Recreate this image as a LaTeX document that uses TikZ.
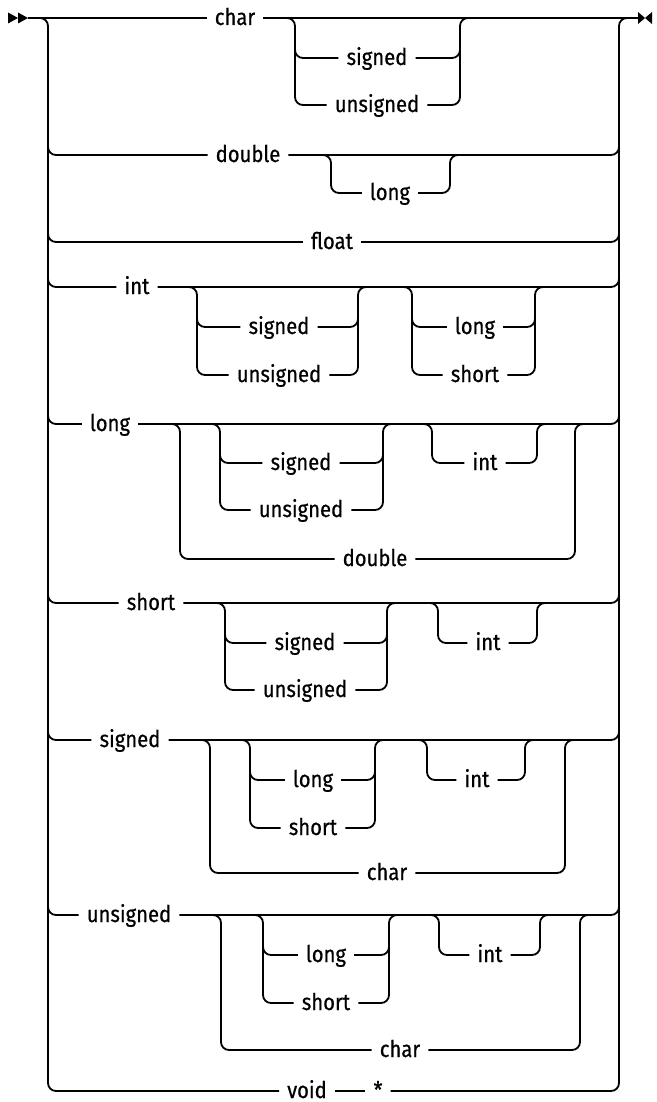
\documentclass[tikz,border=0pt]{standalone}
\usepackage{fontspec}
\setmainfont[FakeStretch=0.88,FakeBold=0.6]{Fira Sans}
\tikzstyle{kw} = [inner xsep=8pt, inner ysep=0pt, text height=14pt, text depth=0pt, font=\fontsize{23}{27}\selectfont]
\tikzstyle{rail} = [line width=1.8pt, rounded corners=8pt]

\begin{document}
\begin{tikzpicture}[x=1pt,y=-1pt]
\useasboundingbox (0,0) rectangle (656,1102);

% keywords
    \node[kw] at (235,18) (chr1) {char};
    \node[kw] at (377,58) (sig1) {signed};
    \node[kw] at (377,105) (uns1) {unsigned};
    \node[kw] at (248,155) (dbl2) {double};
    \node[kw] at (390,193) (lng2) {long};
    \node[kw] at (332,242) (flt3) {float};
    \node[kw] at (137,287) (int4) {int};
    \node[kw] at (279,327) (sig4) {signed};
    \node[kw] at (279,375) (uns4) {unsigned};
    \node[kw] at (475,327) (lng4) {long};
    \node[kw] at (475,375) (sho4) {short};
    \node[kw] at (110,424) (lng5) {long};
    \node[kw] at (301,463) (sig5) {signed};
    \node[kw] at (301,510) (uns5) {unsigned};
    \node[kw] at (485,463) (int5) {int};
    \node[kw] at (375,559) (dbl5) {double};
    \node[kw] at (151,603) (sho6) {short};
    \node[kw] at (305,643) (sig6) {signed};
    \node[kw] at (305,690) (uns6) {unsigned};
    \node[kw] at (488,643) (int6) {int};
    \node[kw] at (130,740) (sig7) {signed};
    \node[kw] at (313,780) (lng7) {long};
    \node[kw] at (313,828) (sho7) {short};
    \node[kw] at (477,780) (int7) {int};
    \node[kw] at (387,873) (chr7) {char};
    \node[kw] at (129,915) (uns8) {unsigned};
    \node[kw] at (326,955) (lng8) {long};
    \node[kw] at (326,1003) (sho8) {short};
    \node[kw] at (490,955) (int8) {int};
    \node[kw] at (400,1050) (chr8) {char};
    \node[kw] at (307,1091) (void9) {void};
    \node[kw] at (378,1091) (star9) {*};

% start and end marks
    \coordinate (in) at (28,18);
    \coordinate (out) at (638,18);
    \fill (8,12.5) -- (18,18) -- (8,23.5) -- cycle;
    \fill (18,12.5) -- (in) -- (18,23.5) -- cycle;
    \fill (638,12) -- (645,18) -- (638,24) -- cycle;
    \fill (652,12) -- (645,18) -- (652,24) -- cycle;

% trunks
    \draw[rail] (in) -- (48,18) -- (48,1091) -- (void9.west);
    \draw[rail] (out) -- (619,18) -- (619,1091) -- (star9.east);
    \draw[rail] (void9.east) -- (star9.west);

% char
    \draw[rail] (in) -- (chr1.west);
    \draw[rail] (chr1.east) -- (out);
    \draw[rail] (285,18) -- (295,18) |- (uns1.west);
    \draw[rail] (295,40) |- (sig1.west);
    \draw[rail] (uns1.east) -| (460,18) -- (470,18);
    \draw[rail] (sig1.east) -| (460,40);

% double
    \draw[rail] (48,130) |- (dbl2.west);
    \draw[rail] (dbl2.east) -| (619,130);
    \draw[rail] (321,155) -- (331,155) |- (lng2.west);
    \draw[rail] (lng2.east) -| (450,155) -- (460,155);

% float
    \draw[rail] (48,220) |- (flt3.west);
    \draw[rail] (flt3.east) -| (619,220);

% int
    \draw[rail] (48,265) |- (int4.west);
    \draw[rail] (int4.east) -| (619,265);
    \draw[rail] (187,287) -- (197,287) |- (uns4.west);
    \draw[rail] (197,310) |- (sig4.west);
    \draw[rail] (uns4.east) -| (358,287) -- (368,287);
    \draw[rail] (sig4.east) -| (358,310);
    \draw[rail] (402,287) -- (412,287) |- (sho4.west);
    \draw[rail] (412,310) |- (lng4.west);
    \draw[rail] (sho4.east) -| (535,287) -- (545,287);
    \draw[rail] (lng4.east) -| (535,310);

% long
    \draw[rail] (48,400) |- (lng5.west);
    \draw[rail] (lng5.east) -| (619,400);
    \draw[rail] (170,424) -- (180,424) |- (dbl5.west);
    \draw[rail] (dbl5.east) -| (575,424) -- (585,424);
    \draw[rail] (210,424) -- (220,424) |- (uns5.west);
    \draw[rail] (220,445) |- (sig5.west);
    \draw[rail] (uns5.east) -| (383,424) -- (393,424);
    \draw[rail] (sig5.east) -| (383,445);
    \draw[rail] (422,424) -- (432,424) |- (int5.west);
    \draw[rail] (int5.east) -| (537,424) -- (547,424);

% short
    \draw[rail] (48,580) |- (sho6.west);
    \draw[rail] (sho6.east) -| (619,580);
    \draw[rail] (215,603) -- (225,603) |- (uns6.west);
    \draw[rail] (225,625) |- (sig6.west);
    \draw[rail] (uns6.east) -| (387,603) -- (397,603);
    \draw[rail] (sig6.east) -| (387,625);
    \draw[rail] (428,603) -- (438,603) |- (int6.west);
    \draw[rail] (int6.east) -| (537,603) -- (547,603);

% signed
    \draw[rail] (48,715) |- (sig7.west);
    \draw[rail] (sig7.east) -| (619,715);
    \draw[rail] (200,740) -- (210,740) |- (chr7.west);
    \draw[rail] (chr7.east) -| (565,740) -- (575,740);
    \draw[rail] (240,740) -- (250,740) |- (sho7.west);
    \draw[rail] (250,760) |- (lng7.west);
    \draw[rail] (sho7.east) -| (375,740) -- (385,740);
    \draw[rail] (lng7.east) -| (375,760);
    \draw[rail] (417,740) -- (427,740) |- (int7.west);
    \draw[rail] (int7.east) -| (525,740) -- (535,740);

% unsigned
    \draw[rail] (48,890) |- (uns8.west);
    \draw[rail] (uns8.east) -| (619,890);
    \draw[rail] (211,915) -- (221,915) |- (chr8.west);
    \draw[rail] (chr8.east) -| (580,915) -- (590,915);
    \draw[rail] (253,915) -- (263,915) |- (sho8.west);
    \draw[rail] (263,935) |- (lng8.west);
    \draw[rail] (sho8.east) -| (389,915) -- (399,915);
    \draw[rail] (lng8.east) -| (389,935);
    \draw[rail] (429,915) -- (439,915) |- (int8.west);
    \draw[rail] (int8.east) -| (540,915) -- (550,915);

\end{tikzpicture}
\end{document}
